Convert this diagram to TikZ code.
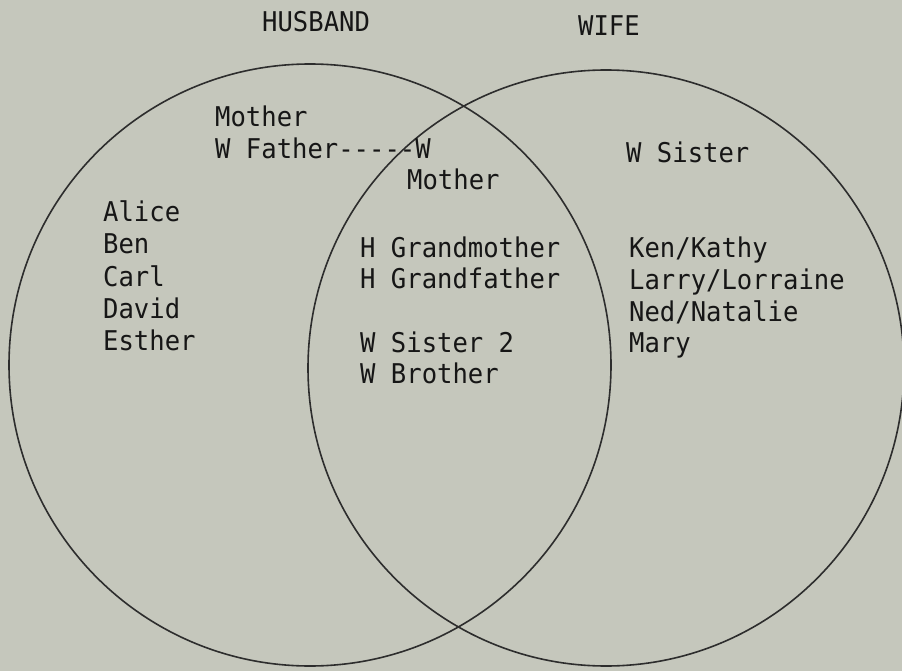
\documentclass[tikz,border=0pt]{standalone}
\usepackage{fontspec}
\setmonofont{DejaVu Sans Mono}[FakeStretch=0.94]
\definecolor{bg}{RGB}{197,199,188}
\definecolor{ink}{RGB}{22,22,22}
\begin{document}
\begin{tikzpicture}[x=1pt,y=-1pt,
  lbl/.style={anchor=base west, inner sep=0pt, text=ink, font=\ttfamily\fontsize{27.2}{32}\selectfont},
  ring/.style={circle, draw=ink!90, line width=1.6pt, inner sep=0pt}]
\fill[bg] (0,0) rectangle (902,671);
\useasboundingbox (0,0) rectangle (902,671);
\node[ring, minimum size=602pt] (H) at (310,365) {};
\node[ring, minimum size=596pt] (W) at (606,368) {};
\node[lbl] (husband) at (262,32) {HUSBAND};
\node[lbl] (wife) at (578,36) {WIFE};
\node[lbl] (m1) at (215,127) {Mother};
\node[lbl] (wf) at (215,159) {W Father-----W};
\node[lbl] (m2) at (407,190) {Mother};
\node[lbl] (ws) at (626,163) {W Sister};
\node[lbl] (a) at (103,222) {Alice};
\node[lbl] (b) at (103,254) {Ben};
\node[lbl] (c) at (103,286) {Carl};
\node[lbl] (d) at (103,318) {David};
\node[lbl] (e) at (103,350) {Esther};
\node[lbl] (hgm) at (360,257) {H Grandmother};
\node[lbl] (hgf) at (360,288) {H Grandfather};
\node[lbl] (ws2) at (360,352) {W Sister 2};
\node[lbl] (wb) at (360,383) {W Brother};
\node[lbl] (kk) at (629,257) {Ken/Kathy};
\node[lbl] (ll) at (629,289) {Larry/Lorraine};
\node[lbl] (nn) at (629,321) {Ned/Natalie};
\node[lbl] (mary) at (629,352) {Mary};
\end{tikzpicture}
\end{document}
